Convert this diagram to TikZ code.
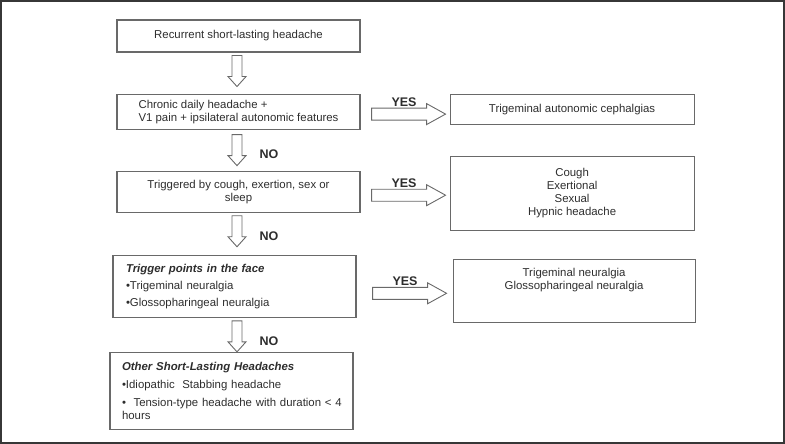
\documentclass[tikz,border=0pt]{standalone}
\usepackage{fontspec}
\setmainfont{Liberation Sans}
\usepackage{tikz}
\usetikzlibrary{calc,positioning}
\definecolor{framegrey}{RGB}{55,55,55}
\definecolor{boxgrey}{RGB}{105,105,105}
\definecolor{inkgrey}{RGB}{45,45,45}
\tikzset{
  qbox/.style={draw=boxgrey,line width=1.1pt,minimum width=243pt,inner sep=0pt,
    align=center,text=inkgrey},
  listbox/.style={qbox,align=left},
  blockarrow/.style={draw=boxgrey,line width=0.9pt,line join=miter,fill=white},
  answer/.style={font=\fontsize{12.5}{14}\selectfont\bfseries,text=inkgrey,
    inner sep=0pt}
}
% hollow block arrows, drawn from the centre of the tail
\newcommand{\downblock}[1]{\draw[blockarrow] ($(#1)+(-5,0)$) -- ++(0,21)
  -- ++(-4,0) -- ++(9,10) -- ++(9,-10) -- ++(-4,0) -- ++(0,-21) -- cycle;}
\newcommand{\rightblock}[1]{\draw[blockarrow] ($(#1)+(0,-6)$) -- ++(55,0)
  -- ++(0,-4.5) -- ++(19,10.5) -- ++(-19,10.5) -- ++(0,-4.5) -- ++(-55,0) -- cycle;}

\begin{document}
\begin{tikzpicture}[x=1pt,y=-1pt,font=\fontsize{11.4}{13}\selectfont]
  \useasboundingbox (0,0) rectangle (785,444);
  \draw[framegrey,line width=2pt] (1,1) rectangle (784,443);
  % left column
  \node[qbox,minimum height=32pt] (onset) at (238.5,36)
    {Recurrent short-lasting headache};
  \node[qbox,minimum height=35pt,align=left,below=41pt of onset] (tacq)
    {Chronic daily headache +\\V1 pain + ipsilateral autonomic features};
  \node[qbox,minimum height=41pt,below=41pt of tacq] (trigq)
    {Triggered by cough, exertion, sex or\\sleep};
  \node[listbox,minimum height=62pt,inner xsep=13pt,text width=217pt,
    below=42pt of trigq,xshift=-4pt] (faceq)
    {\textbf{\textit{Trigger points in the face}}\\[4pt]
     \textbullet Trigeminal neuralgia\\[4pt]
     \textbullet Glossopharingeal neuralgia};
  \node[listbox,minimum height=77pt,inner xsep=12pt,text width=219pt,
    below=34pt of faceq,xshift=-3pt] (other)
    {\textbf{\textit{Other Short-Lasting Headaches}}\\[5pt]
     \textbullet Idiopathic\ \ Stabbing headache\\[5pt]
     \mbox{\textbullet\ \ Tension-type headache with duration < 4}\\hours};
  % right column
  \node[qbox,minimum width=244pt,minimum height=30pt,right=89pt of tacq,
    yshift=2.5pt] (tac) {Trigeminal autonomic cephalgias};
  \node[qbox,minimum width=244pt,minimum height=74pt,right=89pt of trigq,
    yshift=-1.5pt] (provoked) {Cough\\Exertional\\Sexual\\Hypnic headache};
  \node[qbox,minimum width=242pt,minimum height=63pt,right=96pt of faceq,
    yshift=-4.5pt] (neuralgia) {};
  \node[text=inkgrey,align=center,inner sep=0pt,below=9pt of neuralgia.north]
    (neuralgiatext) {Trigeminal neuralgia\\Glossopharingeal neuralgia};
  % block arrows
  \coordinate (d1) at ($(onset.south)+(-1.5,3)$);
  \coordinate (d2) at ($(tacq.south)+(-1.5,5)$);
  \coordinate (d3) at ($(trigq.south)+(-1.5,3)$);
  \coordinate (d4) at ($(faceq.south)+(2.5,3)$);
  \coordinate (a1) at ($(tacq.east)+(11,2.5)$);
  \coordinate (a2) at ($(trigq.east)+(11,3.5)$);
  \coordinate (a3) at ($(faceq.east)+(16,7)$);
  \foreach \d in {d1,d2,d3,d4} {\downblock{\d}}
  \foreach \a in {a1,a2,a3} {\rightblock{\a}}
  \node[answer] (no1) at ($(d2)+(32,20)$) {NO};
  \node[answer] (no2) at ($(d3)+(32,20)$) {NO};
  \node[answer] (no3) at ($(d4)+(32,20)$) {NO};
  \node[answer] (yes1) at ($(a1)+(32.5,-12)$) {YES};
  \node[answer] (yes2) at ($(a2)+(32.5,-12)$) {YES};
  \node[answer] (yes3) at ($(a3)+(32.5,-12)$) {YES};
\end{tikzpicture}
\end{document}
